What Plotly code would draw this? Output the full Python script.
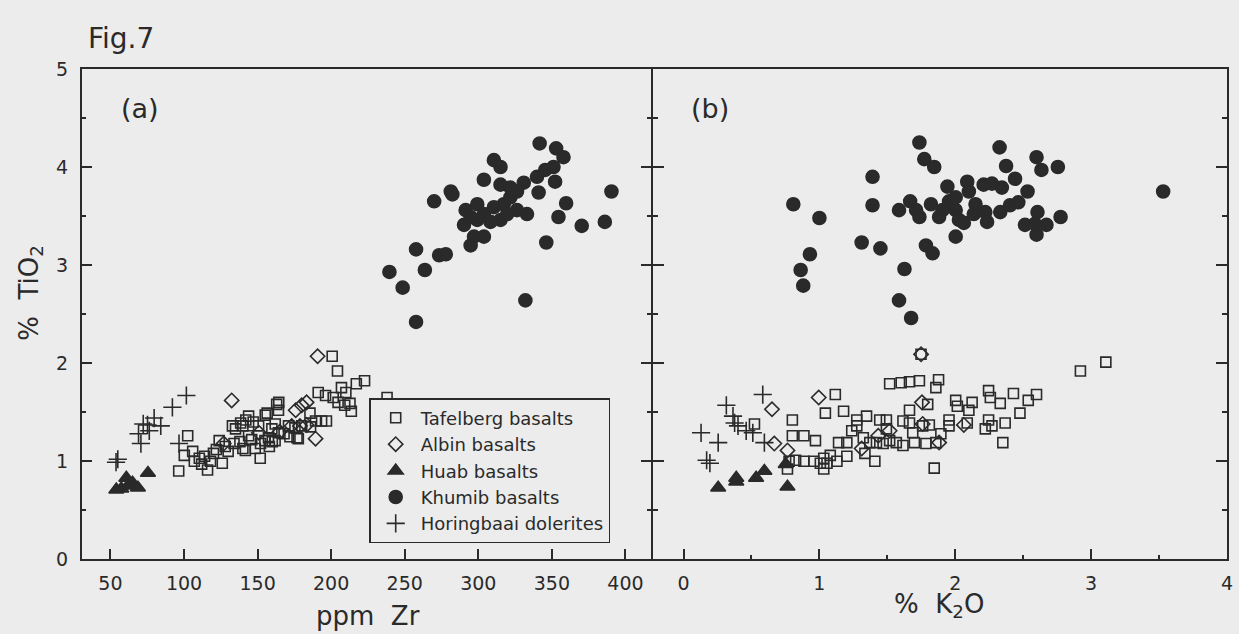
import plotly.graph_objects as go

# ---------------- Panel (a): ppm Zr vs % TiO2 ----------------
taf_zr = [96.4, 100.2, 102.5, 105.9, 107, 110.4, 112, 114, 116, 118, 120, 122, 123.9, 126, 128, 130,
          132.9, 134, 135, 138, 138.5, 140, 140, 141.7, 142, 143.9, 143.9, 146, 147, 148.4, 150.7,
          151.8, 152, 155, 155.2, 156.5, 157.4, 158, 159.7, 160, 161.9, 162, 163, 164.2, 164.4, 164.2,
          168, 171, 172, 175.4, 176.8, 177.7, 180, 185.6, 186, 189.4, 191.2, 193.5, 196.8, 196.2,
          200.7, 201.4, 204.3, 204.7, 209.2, 207, 210, 213.7, 217.1, 222.7, 212.8, 238]
taf_ti = [0.90, 1.06, 1.26, 1.10, 1.00, 1.03, 0.97, 1.05, 0.91, 1.00, 1.08, 1.12, 1.21, 0.98, 1.15, 1.10,
          1.36, 1.18, 1.33, 1.20, 1.39, 1.13, 1.36, 1.11, 1.42, 1.46, 1.26, 1.22, 1.40, 1.13, 1.36,
          1.03, 1.18, 1.21, 1.47, 1.49, 1.24, 1.15, 1.33, 1.20, 1.21, 1.38, 1.58, 1.52, 1.60, 1.29,
          1.28, 1.36, 1.25, 1.34, 1.24, 1.23, 1.36, 1.49, 1.35, 1.41, 1.70, 1.41, 1.41, 1.67,
          2.07, 1.65, 1.92, 1.60, 1.57, 1.75, 1.70, 1.51, 1.79, 1.82, 1.59, 1.65]

alb_zr = [190.8, 189.4, 175.9, 180, 183.3, 178.8, 173.2, 183.3, 132.4, 150.9, 127, 165]
alb_ti = [2.07, 1.23, 1.52, 1.57, 1.60, 1.36, 1.36, 1.37, 1.62, 1.29, 1.18, 1.30]

huab_zr = [54, 57.4, 60.8, 61.9, 65, 68.7, 75.5]
huab_ti = [0.71, 0.72, 0.83, 0.75, 0.78, 0.73, 0.88]

khu_zr = [341.7, 352.9, 357.9, 310.6, 315.1, 345.5, 339.9, 351.1, 352.2, 303.8, 315.1, 330.9, 281.3,
          282.4, 341, 390.5, 270, 291.4, 290.3, 299.3, 303.8, 310.6, 317.3, 321.8, 326.3, 326.3, 333.1,
          315.1, 308.3, 299.3, 319.6, 294.8, 321.8, 359.7, 354.5, 370.3, 386, 297.1, 303.8, 294.8,
          346.2, 257.7, 273.4, 277.9, 239.6, 263.7, 248.6, 332, 257.7]
khu_ti = [4.24, 4.19, 4.10, 4.07, 4.00, 3.97, 3.90, 4.00, 3.85, 3.87, 3.82, 3.84, 3.75,
          3.72, 3.74, 3.75, 3.65, 3.56, 3.41, 3.62, 3.52, 3.59, 3.62, 3.69, 3.75, 3.56, 3.52,
          3.46, 3.44, 3.46, 3.52, 3.49, 3.79, 3.63, 3.49, 3.40, 3.44, 3.29, 3.29, 3.20,
          3.23, 3.16, 3.10, 3.11, 2.93, 2.95, 2.77, 2.64, 2.42]

hor_zr = [53.8, 55, 69.1, 70.7, 72.3, 75.2, 76.4, 79.7, 84.2, 92.1, 96.6, 101.6]
hor_ti = [0.99, 1.02, 1.28, 1.18, 1.38, 1.37, 1.31, 1.44, 1.36, 1.55, 1.18, 1.67]

# ---------------- Panel (b): % K2O vs % TiO2 ----------------
taf_k = [1.748, 2.921, 3.108, 1.517, 1.602, 1.663, 1.736, 1.877, 1.857, 1.117, 1.044, 1.178, 0.801,
         0.522, 1.275, 1.347, 1.444, 1.493, 1.663, 1.797, 1.663, 1.760, 2.003, 2.015, 2.124, 2.100,
         2.245, 2.258, 2.331, 2.428, 2.537, 2.598, 2.476, 2.367, 2.245, 2.270, 2.221, 2.088, 1.954,
         1.954, 1.894, 1.857, 1.784, 1.699, 1.615, 1.566, 1.687, 2.350, 1.845, 1.408, 1.335, 1.371,
         1.323, 1.275, 1.238, 1.141, 1.202, 1.202, 1.129, 1.080, 1.032, 1.007, 1.056, 1.032, 0.959,
         0.886, 0.825, 0.801, 0.886, 0.971, 0.765, 0.777, 1.420, 1.469, 1.517, 1.493, 1.615, 1.809]
taf_ti2 = [2.09, 1.92, 2.01, 1.79, 1.80, 1.81, 1.82, 1.83, 1.75, 1.68, 1.49, 1.51, 1.42,
           1.38, 1.42, 1.46, 1.42, 1.42, 1.52, 1.58, 1.39, 1.36, 1.62, 1.56, 1.60, 1.52,
           1.72, 1.65, 1.59, 1.69, 1.62, 1.68, 1.49, 1.39, 1.42, 1.36, 1.33, 1.39, 1.42,
           1.36, 1.28, 1.19, 1.18, 1.19, 1.16, 1.19, 1.29, 1.19, 0.93, 1.00, 1.08, 1.19,
           1.24, 1.36, 1.31, 1.19, 1.19, 1.05, 1.00, 1.06, 1.03, 0.98, 0.98, 0.92, 1.00,
           1.00, 1.01, 1.26, 1.26, 1.21, 0.92, 1.00, 1.19, 1.18, 1.21, 1.33, 1.41, 1.37]

alb_k = [0.995, 0.651, 1.755, 1.760, 1.517, 1.433, 0.765, 0.668, 2.063, 1.881, 1.311, 1.748]
alb_ti2 = [1.65, 1.53, 1.60, 1.38, 1.31, 1.26, 1.11, 1.18, 1.37, 1.19, 1.13, 2.09]

huab_k = [0.255, 0.388, 0.388, 0.534, 0.595, 0.765, 0.752]
huab_ti2 = [0.73, 0.79, 0.83, 0.83, 0.90, 0.74, 0.97]

khu_k = [1.736, 1.772, 1.845, 2.326, 2.598, 2.634, 2.755, 2.374, 1.391, 2.440, 2.532, 0.808, 1.000,
         1.391, 1.586, 1.668, 1.942, 2.088, 2.100, 2.209, 2.270, 2.343, 1.736, 1.712, 1.821, 1.906,
         1.954, 2.003, 2.027, 2.063, 2.136, 2.221, 2.234, 2.331, 2.403, 2.464, 1.881, 2.003, 2.149,
         2.605, 2.513, 2.586, 2.598, 2.671, 2.775, 2.003, 1.311, 1.449, 1.784, 1.833, 0.930, 0.862,
         0.881, 1.626, 1.586, 1.675, 3.53]
khu_ti2 = [4.25, 4.08, 4.00, 4.20, 4.10, 3.97, 4.00, 4.01, 3.90, 3.88, 3.75, 3.62, 3.48,
           3.61, 3.56, 3.65, 3.80, 3.85, 3.75, 3.82, 3.83, 3.79, 3.49, 3.56, 3.62, 3.56,
           3.65, 3.56, 3.46, 3.43, 3.52, 3.54, 3.44, 3.54, 3.61, 3.64, 3.49, 3.69, 3.62,
           3.54, 3.41, 3.42, 3.31, 3.41, 3.49, 3.29, 3.23, 3.17, 3.20, 3.12, 3.11, 2.95,
           2.79, 2.96, 2.64, 2.46, 3.75]

hor_k = [0.583, 0.315, 0.364, 0.376, 0.401, 0.461, 0.510, 0.129, 0.255, 0.595, 0.170, 0.194]
hor_ti2 = [1.68, 1.57, 1.46, 1.39, 1.36, 1.31, 1.29, 1.29, 1.19, 1.19, 1.01, 0.98]

zr_ticks = [50, 100, 150, 200, 250, 300, 350, 400]
k_ticks = [0, 1, 2, 3, 4]
ti_ticks = [0, 1, 2, 3, 4, 5]

# ---------------- styling ----------------
W, H = 1239, 634
INK = '#2a2a2a'
BG = '#ececec'
FONT = 'DejaVu Sans'

def px_x(p):
    return p / W

def px_y(p):
    return 1 - p / H

groups = [
    ('Tafelberg basalts', 'square-open', 10, (taf_zr, taf_ti), (taf_k, taf_ti2)),
    ('Albin basalts', 'diamond-open', 11, (alb_zr, alb_ti), (alb_k, alb_ti2)),
    ('Huab basalts', 'triangle-up', 13, (huab_zr, huab_ti), (huab_k, huab_ti2)),
    ('Khumib basalts', 'circle', 13, (khu_zr, khu_ti), (khu_k, khu_ti2)),
    ('Horingbaai dolerites', 'cross-thin-open', 13, (hor_zr, hor_ti), (hor_k, hor_ti2)),
]

fig = go.Figure()
for name, sym, size, (xa, ya), (xb, yb) in groups:
    mk = dict(symbol=sym, size=size, color=INK, line=dict(color=INK, width=1.6))
    fig.add_trace(go.Scatter(x=xa, y=ya, mode='markers', name=name, legendgroup=name,
                             marker=mk, xaxis='x', yaxis='y', showlegend=True))
    fig.add_trace(go.Scatter(x=xb, y=yb, mode='markers', name=name, legendgroup=name,
                             marker=mk, xaxis='x2', yaxis='y2', showlegend=False))

ydom = [66 / H, 574 / H]
axis_common = dict(showline=True, linecolor=INK, linewidth=1.5, showgrid=False, zeroline=False,
                   ticks='inside', ticklen=11, tickwidth=1.5, tickcolor=INK,
                   ticklabeloverflow='allow',
                   tickfont=dict(family=FONT, size=19, color=INK))
minor_ticks = dict(dtick=0.5, ticks='inside', ticklen=5, tickwidth=1.5, tickcolor=INK)

fig.update_layout(
    width=W, height=H, margin=dict(l=0, r=0, t=0, b=0),
    paper_bgcolor=BG, plot_bgcolor=BG,
    xaxis=dict(domain=[82 / W, 654.5 / W], range=[30.4, 417.6], tickvals=zr_ticks,
               mirror=True, anchor='y', ticklabelstandoff=6, **axis_common),
    yaxis=dict(domain=ydom, range=[0, 5], tickvals=ti_ticks, anchor='x', mirror='ticks',
               ticklabelstandoff=8, minor=minor_ticks, **axis_common),
    xaxis2=dict(domain=[656 / W, 1233 / W], range=[-0.226, 4.0], tickvals=k_ticks,
                mirror=True, anchor='y2', ticklabelstandoff=6, minor=minor_ticks,
                **axis_common),
    yaxis2=dict(domain=ydom, range=[0, 5], tickvals=ti_ticks, anchor='x2', mirror='ticks',
                showticklabels=False, minor=minor_ticks, **axis_common),
    legend=dict(x=px_x(371), y=px_y(401), xanchor='left', yanchor='top',
                bgcolor=BG, bordercolor=INK, borderwidth=1.5, tracegroupgap=0,
                itemwidth=40,
                font=dict(family=FONT, size=18, color=INK)),
    showlegend=True,
)

def note(text, x, y, size=26, angle=0, xanchor='center'):
    fig.add_annotation(text=text, x=px_x(x), y=px_y(y), xref='paper', yref='paper',
                       showarrow=False, textangle=angle, xanchor=xanchor, yanchor='middle',
                       font=dict(family=FONT, size=size, color=INK))

note('Fig.7', 86, 28, size=28, xanchor='left')
note('(a)', 141, 101, size=27)
note('(b)', 713, 101, size=27)
note('ppm  Zr', 370, 627, size=26)
note('%  K<sub>2</sub>O', 944, 616, size=26)
note('%  TiO<sub>2</sub>', 31, 292, size=26, angle=-90)

fig.write_html('out.html')
